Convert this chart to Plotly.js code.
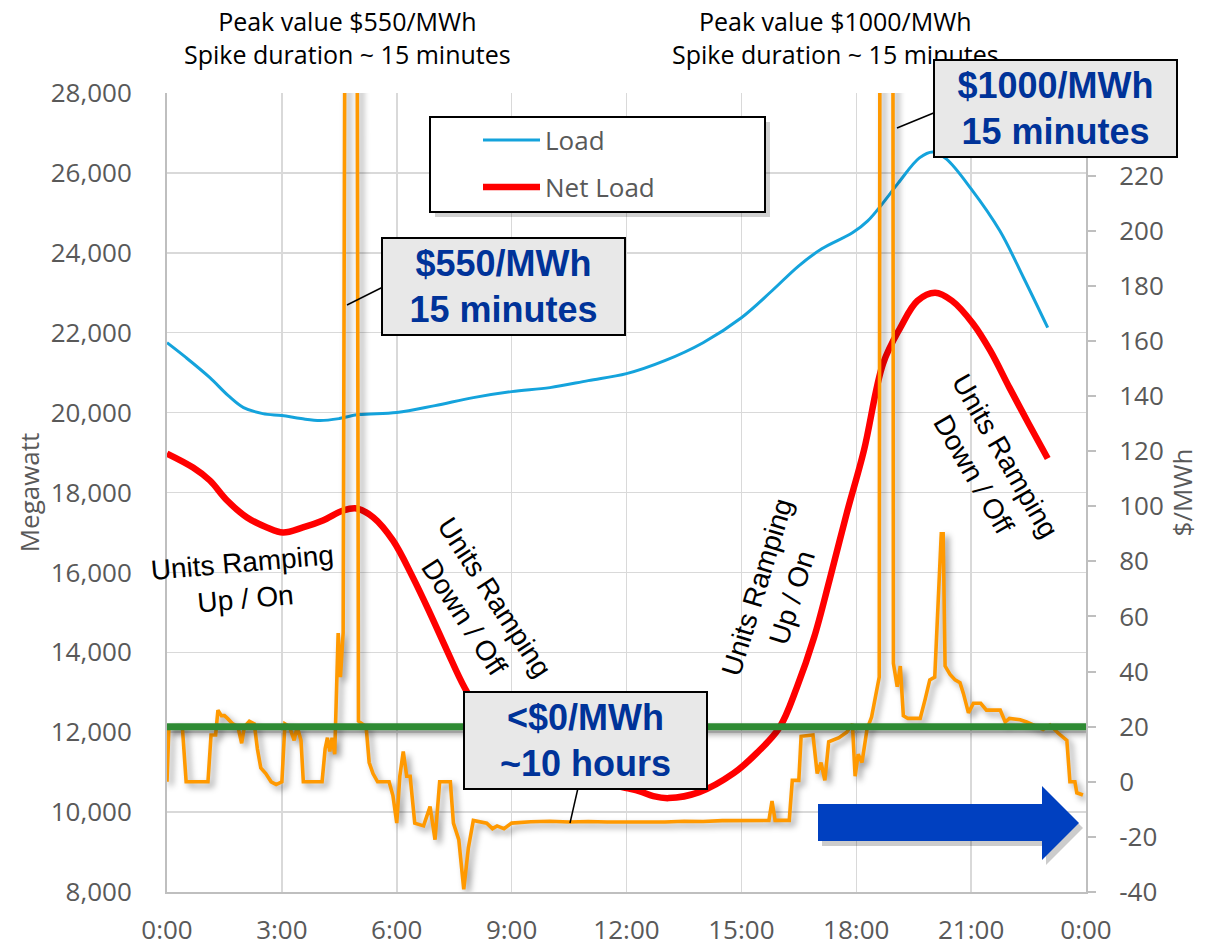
<!DOCTYPE html>
<html>
<head>
<meta charset="utf-8">
<script src="https://cdn.plot.ly/plotly-3.0.1.min.js"></script>
<style>
  html, body { margin: 0; padding: 0; background: #ffffff; }
  #chart { width: 1206px; height: 947px; }
</style>
</head>
<body>
<div id="chart"></div>
<script>
// ---- data -------------------------------------------------------------
// System load (MW) by hour of day
const loadHour = [0, 0.5, 1.12, 1.6, 2.0, 2.5, 3.0, 3.5, 4.0, 4.5, 5.0, 6.0, 7.0, 8.0, 9.0, 10.0, 11.0, 12.0,
  13.0, 14.0, 15.0, 15.8, 16.5, 17.1, 17.9, 18.3, 18.7, 19.1, 19.65, 20.0, 20.35, 21.0, 21.75, 22.37, 23.0];
const loadMW = [21750, 21375, 20875, 20425, 20125, 19975, 19925, 19850, 19800, 19850, 19950, 20000, 20175, 20375,
  20525, 20625, 20800, 20975, 21300, 21750, 22375, 23050, 23675, 24100, 24500, 24800, 25250, 25750, 26375,
  26525, 26350, 25600, 24550, 23375, 22125];

// Net load (MW) = load minus wind and solar
const netHour = [0, 0.68, 1.12, 1.57, 2.09, 2.61, 3.03, 3.55, 4.07, 4.6, 4.96, 5.39, 5.9, 6.42, 6.87, 7.31, 7.78,
  8.5, 9.0, 10.0, 11.0, 12.0, 12.35, 12.7, 13.1, 13.9, 14.8, 15.4, 16.0, 16.45, 16.9, 17.3, 17.75, 18.2, 18.7,
  19.15, 19.6, 20.06, 20.5, 21.05, 21.5, 22.0, 22.5, 23.0];
const netMW = [18975, 18625, 18300, 17800, 17375, 17125, 17000, 17125, 17300, 17550, 17600, 17375, 16800, 15875,
  14975, 14050, 13100, 12000, 11500, 11050, 10800, 10600, 10520, 10400, 10350, 10500, 10975, 11475, 12125,
  13125, 14375, 15800, 17475, 19050, 21225, 22125, 22800, 23000, 22800, 22225, 21550, 20625, 19725, 18850];

// Real-time price ($/MWh)
const priceHour = [0.00, 0.05, 0.40, 0.50, 1.07, 1.15, 1.27, 1.33, 1.42, 1.50, 1.58, 1.65, 1.72, 1.85, 1.95, 2.02,
  2.15, 2.28, 2.36, 2.45, 2.58, 2.72, 2.85, 3.00, 3.08, 3.20, 3.32, 3.40, 3.50, 3.56, 4.05, 4.13, 4.19, 4.25,
  4.31, 4.38, 4.47, 4.53, 4.60, 4.70, 4.93, 5.00, 5.10, 5.20, 5.28, 5.38, 5.50, 5.80, 5.90, 6.00, 6.08, 6.17,
  6.26, 6.35, 6.47, 6.70, 6.87, 7.00, 7.12, 7.40, 7.48, 7.62, 7.75, 7.87, 8.00, 8.35, 8.50, 8.62, 8.80, 9.00,
  9.50, 10.00, 10.50, 11.00, 11.50, 12.00, 12.50, 13.00, 13.50, 14.00, 14.50, 15.00, 15.50, 15.72, 15.80,
  15.88, 16.25, 16.33, 16.50, 16.56, 16.87, 16.98, 17.08, 17.18, 17.28, 17.55, 17.75, 17.90, 17.97, 18.05,
  18.15, 18.28, 18.40, 18.53, 18.60, 18.67, 18.92, 18.97, 19.07, 19.15, 19.23, 19.35, 19.67, 19.80, 19.92,
  20.05, 20.17, 20.22, 20.27, 20.32, 20.45, 20.58, 20.71, 20.80, 20.93, 21.06, 21.25, 21.40, 21.76, 21.89,
  22.00, 22.28, 22.45, 22.70, 22.88, 23.06, 23.27, 23.50, 23.58, 23.71, 23.76, 23.92];
const priceVal = [0, 20, 20, 0, 0, 17, 17, 26, 24, 24, 23, 22, 21, 20, 14, 20,
  22, 21, 12, 5, 3, 0, -1, 0, 21, 20, 15, 20, 15, 0, 0, 12, 16, 11,
  16, 10, 54, 38, 54, 550, 550, 22, 21, 20, 7, 3, 0, 0, -5, -15, 2, 11,
  2, 2, -15, -16, -9, -21, 0, 0, -15, -21, -39, -24, -14, -15, -17, -16, -17, -15,
  -14.5, -14.3, -14.6, -14.4, -14.6, -14.7, -14.5, -14.6, -14.3, -14.4, -14.1, -14.0, -14.2, -14, -7,
  -14, -14, 0.5, 0.5, 16.5, 17, 3, 7, 0.5, 14.5, 16, 18, 21, 2, 10,
  7, 19, 23.5, 32, 38, 1000, 1000, 43, 34.5, 42, 24, 23, 23, 30, 37,
  38, 80, 90, 90, 42, 39, 37, 36, 32, 25, 28.5, 28.5, 26, 26, 21.7,
  23, 22.5, 21.7, 20, 19, 20.6, 17.7, 15, 0, 0, -4, -4.8];

// Reference price level ($/MWh)
const refHour = [0, 24];
const refPrice = [20, 20];

// Axis ticks
const hourTicks = [0, 3, 6, 9, 12, 15, 18, 21, 24];
const hourLabels = ['0:00', '3:00', '6:00', '9:00', '12:00', '15:00', '18:00', '21:00', '0:00'];
const priceTicks = [-40, -20, 0, 20, 40, 60, 80, 100, 120, 140, 160, 180, 200, 220];
const priceLabels = ['-40', '-20', '0', '20', '40', '60', '80', '100', '120', '140', '160', '180', '200', '220'];

// ---- layout helpers (pixel -> paper) ----------------------------------
const L = 167, R = 1086, T = 93, B = 892;
const px = x => (x - L) / (R - L);
const py = y => (B - y) / (B - T);

const calibri = 'Open Sans, Noto Sans, sans-serif';
const arial = 'Liberation Sans, Arial, sans-serif';
const gray = '#595959';
const boxBlue = '#003399';

const traces = [
  { name: 'Load', x: loadHour, y: loadMW, type: 'scatter', mode: 'lines',
    line: { color: '#14a3dc', width: 3, shape: 'spline', smoothing: 1 }, showlegend: false },
  { name: 'Net Load', x: netHour, y: netMW, type: 'scatter', mode: 'lines',
    line: { color: '#ff0000', width: 6.5, shape: 'spline', smoothing: 1 }, showlegend: false },
  { name: 'Price', x: priceHour, y: priceVal, yaxis: 'y2', type: 'scatter', mode: 'lines',
    line: { color: '#ff9900', width: 3.6 }, showlegend: false },
  { name: 'Reference', x: refHour, y: refPrice, yaxis: 'y2', type: 'scatter', mode: 'lines',
    line: { color: '#2e8a33', width: 7 }, showlegend: false }
];

const tickFont = { family: calibri, size: 26, color: gray };

// blue arrow outline (pixel coordinates)
const arrowPts = [[818, 804], [1042, 804], [1042, 786], [1079, 823], [1042, 860], [1042, 841], [818, 841]];
const arrowPath = (dx, dy) => 'M' + arrowPts.map(p => px(p[0] + dx) + ',' + py(p[1] + dy)).join(' L') + ' Z';

const shapes = [
  // leader lines
  { type: 'line', xref: 'paper', yref: 'paper', x0: px(347), y0: py(305), x1: px(383), y1: py(287), line: { color: '#000', width: 1.5 } },
  { type: 'line', xref: 'paper', yref: 'paper', x0: px(897), y0: py(128), x1: px(936), y1: py(112), line: { color: '#000', width: 1.5 } },
  { type: 'line', xref: 'paper', yref: 'paper', x0: px(570), y0: py(823), x1: px(578), y1: py(788), line: { color: '#000', width: 1.5 } },
  // legend box with shadow
  { type: 'rect', xref: 'paper', yref: 'paper', x0: px(435), y0: py(122), x1: px(770), y1: py(217),
    fillcolor: 'rgba(0,0,0,0.18)', line: { width: 0 } },
  { type: 'rect', xref: 'paper', yref: 'paper', x0: px(430), y0: py(117), x1: px(765), y1: py(212),
    fillcolor: '#ffffff', line: { color: '#000000', width: 2 } },
  { type: 'line', xref: 'paper', yref: 'paper', x0: px(483), y0: py(140), x1: px(540), y1: py(140),
    line: { color: '#14a3dc', width: 3 } },
  { type: 'line', xref: 'paper', yref: 'paper', x0: px(483), y0: py(187), x1: px(540), y1: py(187),
    line: { color: '#ff0000', width: 6.5 } },
  // arrow with shadow
  { type: 'path', xref: 'paper', yref: 'paper', path: arrowPath(4, 5), fillcolor: 'rgba(0,0,0,0.2)', line: { width: 0 } },
  { type: 'path', xref: 'paper', yref: 'paper', path: arrowPath(0, 0), fillcolor: '#0040c0', line: { width: 0 } }
];

const boxText = (txt, cx, cy) => ({
  xref: 'paper', yref: 'paper', x: px(cx), y: py(cy), xanchor: 'center', yanchor: 'middle',
  text: txt, showarrow: false, width: 241, height: 95, borderpad: 0,
  bgcolor: '#e8e8e8', bordercolor: '#000000', borderwidth: 2,
  font: { family: arial, size: 36, color: boxBlue, weight: 'bold' }
});

const ramp = (txt, cx, cy, ang) => ({
  xref: 'paper', yref: 'paper', x: px(cx), y: py(cy), xanchor: 'center', yanchor: 'middle',
  text: txt, showarrow: false, textangle: ang, font: { family: arial, size: 28, color: '#000' }
});

const annotations = [
  { xref: 'paper', yref: 'paper', x: px(347), y: py(37), xanchor: 'center', yanchor: 'middle', showarrow: false,
    text: 'Peak value $550/MWh<br>Spike duration ~ 15 minutes', font: { family: calibri, size: 25, color: '#000' } },
  { xref: 'paper', yref: 'paper', x: px(835), y: py(37), xanchor: 'center', yanchor: 'middle', showarrow: false,
    text: 'Peak value $1000/MWh<br>Spike duration ~ 15 minutes', font: { family: calibri, size: 25, color: '#000' } },
  ramp('Units Ramping<br>Up / On', 244, 580, -5),
  ramp('Units Ramping<br>Down / Off', 480, 607, 57),
  ramp('Units Ramping<br>Up / On', 774, 592, -73),
  ramp('Units Ramping<br>Down / Off', 990, 465, 60),
  // legend labels
  { xref: 'paper', yref: 'paper', x: px(543), y: py(140), xanchor: 'left', yanchor: 'middle', showarrow: false,
    text: 'Load', font: { family: calibri, size: 26, color: gray } },
  { xref: 'paper', yref: 'paper', x: px(543), y: py(187), xanchor: 'left', yanchor: 'middle', showarrow: false,
    text: 'Net Load', font: { family: calibri, size: 26, color: gray } },
  // callout boxes
  boxText('$550/MWh<br>15 minutes', 503.5, 286.5),
  boxText('&lt;$0/MWh<br>~10 hours', 585.5, 740),
  boxText('$1000/MWh<br>15 minutes', 1055.5, 109)
];

const layout = {
  width: 1206, height: 947,
  margin: { l: 167, r: 120, t: 93, b: 55, pad: 0 },
  paper_bgcolor: '#ffffff', plot_bgcolor: '#ffffff',
  showlegend: false,
  xaxis: {
    range: [0, 24], tickvals: hourTicks, ticktext: hourLabels,
    showgrid: true, gridcolor: '#d9d9d9', gridwidth: 1.5,
    showline: true, linecolor: '#bfbfbf', linewidth: 2, zeroline: false,
    ticks: '', tickfont: tickFont, ticklabelstandoff: 14, fixedrange: true
  },
  yaxis: {
    range: [8000, 28000], dtick: 2000, tick0: 8000, tickformat: ',d',
    showgrid: true, gridcolor: '#d9d9d9', gridwidth: 1.5,
    showline: true, linecolor: '#bfbfbf', linewidth: 2, zeroline: false,
    ticks: '', tickfont: tickFont, ticklabelstandoff: 28,
    title: { text: 'Megawatt', font: { family: calibri, size: 26, color: gray }, standoff: 4 },
    automargin: false, fixedrange: true
  },
  yaxis2: {
    overlaying: 'y', side: 'right', range: [-40, 250], tickvals: priceTicks, ticktext: priceLabels,
    showgrid: false, zeroline: false,
    showline: true, linecolor: '#bfbfbf', linewidth: 2,
    ticks: 'outside', ticklen: 8, tickwidth: 2, tickcolor: '#bfbfbf',
    tickfont: tickFont, ticklabelstandoff: 18,
    title: { text: '$/MWh', font: { family: calibri, size: 26, color: gray }, standoff: 6 },
    automargin: false, fixedrange: true
  },
  shapes: shapes,
  annotations: annotations
};

Plotly.newPlot('chart', traces, layout, { staticPlot: true, displayModeBar: false }).then(gd => {
  // soft drop shadow under the price series and the reference line
  const groups = gd.querySelectorAll('g.trace.scatter');
  groups.forEach(g => {
    const d = g.__data__ && g.__data__[0] && g.__data__[0].trace;
    if (d && (d.name === 'Price' || d.name === 'Reference')) {
      g.querySelectorAll('path.js-line').forEach(p => {
        p.style.filter = 'drop-shadow(4px 4px 3px rgba(0,0,0,0.38))';
      });
    }
  });
});
</script>
</body>
</html>
